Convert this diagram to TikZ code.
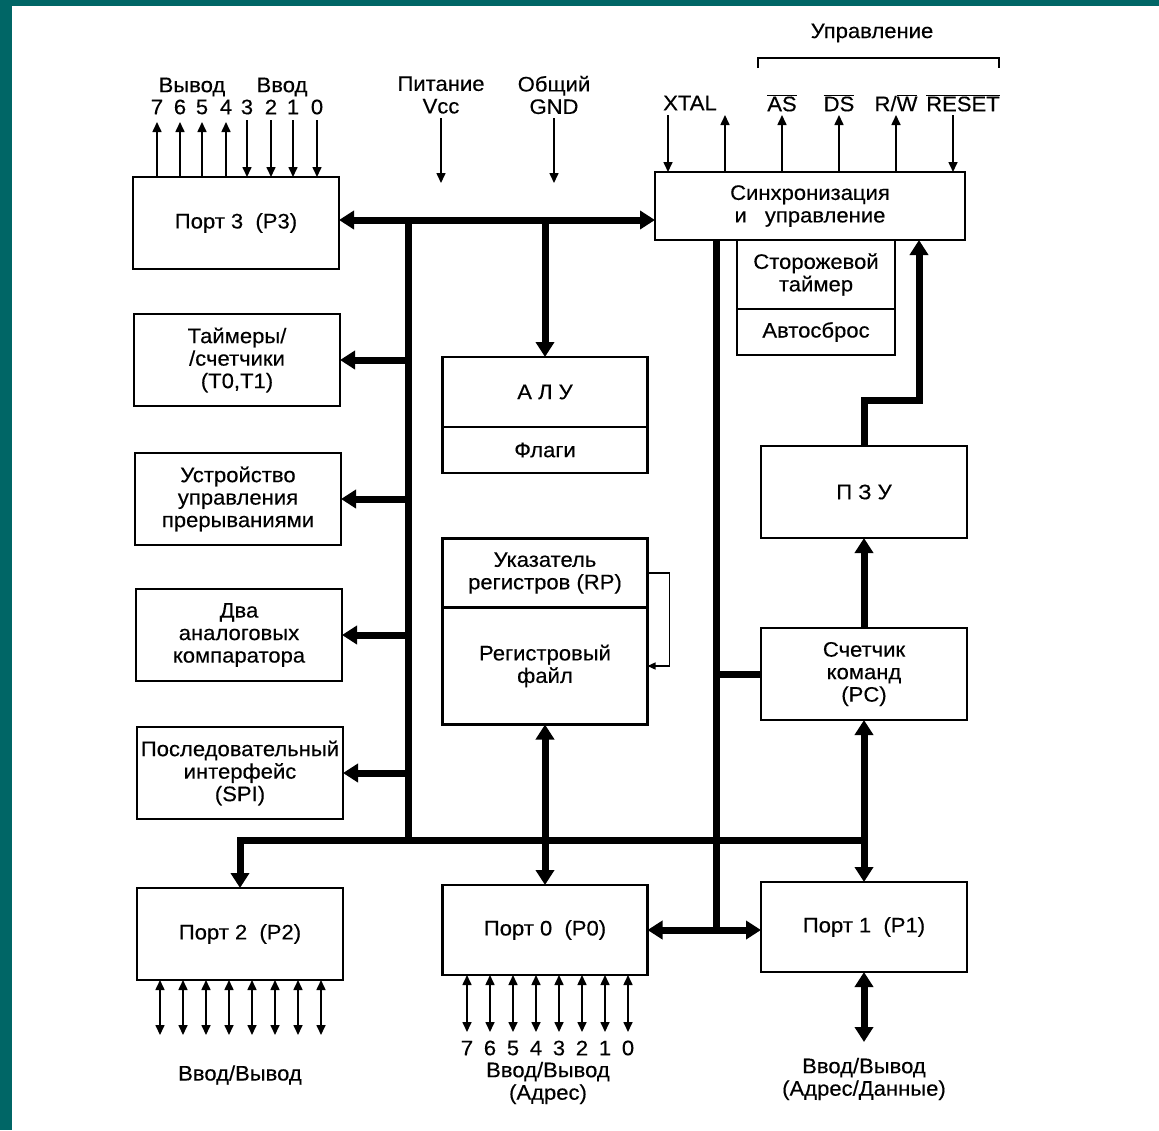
\documentclass[tikz,border=0pt]{standalone}
\usepackage{fontspec}
\setmainfont{Liberation Sans}[FakeStretch=1.05,FakeBold=0.3]
\usetikzlibrary{arrows.meta,positioning}
\definecolor{frame}{RGB}{0,102,102}
\tikzset{
  blk/.style={draw, line width=2.2pt, outer sep=0pt, inner sep=2pt, align=center, minimum width=206pt, minimum height=92pt},
  lbl/.style={inner sep=0pt, align=center},
  bus/.style={line width=7pt},
  busarr/.style={bus, -{Triangle[length=15pt,width=18pt]}},
  busboth/.style={bus, {Triangle[length=15pt,width=18pt]}-{Triangle[length=15pt,width=18pt]}},
  pin/.style={line width=1.6pt, -{Triangle[length=10pt,width=9pt]}},
  pinboth/.style={line width=1.6pt, {Triangle[length=10pt,width=9pt]}-{Triangle[length=10pt,width=9pt]}},
}
\begin{document}
\begin{tikzpicture}[x=1pt,y=-1pt, every node/.style={font=\fontsize{21}{22.5}\selectfont}]
\useasboundingbox (0,0) rectangle (1159,1130);
\fill[frame] (0,0) rectangle (1159,1130);
\fill[white] (12,6) rectangle (1159,1130);
% left column
\node[blk] (p3) at (236,223) {Порт 3\ \ (P3)};
\node[blk] (tmr) at (237,360) {Таймеры/\\/счетчики\\(T0,T1)};
\node[blk] (irq) at (238,499) {Устройство\\управления\\прерываниями};
\node[blk] (cmp) at (239,635) {Два\\аналоговых\\компаратора};
\node[blk] (spi) at (240,773) {Последовательный\\интерфейс\\(SPI)};
\node[blk] (p2) at (240,934) {Порт 2\ \ (P2)};
% middle column
\node[blk, minimum width=205pt, minimum height=70pt] (alu) at (545,392) {А\ Л\ У};
\node[blk, minimum width=205pt, minimum height=46pt, below=0pt of alu] (flg) {Флаги};
\node[blk, minimum width=205pt, minimum height=69pt] (rp) at (545,573) {Указатель\\регистров (RP)};
\node[blk, minimum width=205pt, minimum height=117pt, below=0pt of rp] (rf) {Регистровый\\файл};
\node[blk, minimum width=205pt, minimum height=90pt] (p0) at (545,930) {Порт 0\ \ (P0)};
% right column
\node[blk, minimum width=310pt, minimum height=68pt] (sync) at (810,206) {Синхронизация\\и\hspace{18pt}управление};
\node[blk, anchor=north, minimum width=158pt, minimum height=69pt] (wdt) at (816,240) {Сторожевой\\таймер};
\node[blk, minimum width=158pt, minimum height=46pt, below=0pt of wdt] (ars) {Автосброс};
\node[blk] (rom) at (864,492) {П\ З\ У};
\node[blk] (pc) at (864,674) {Счетчик\\команд\\(PC)};
\node[blk, minimum height=90pt] (p1) at (864,927) {Порт 1\ \ (P1)};
% buses
\coordinate (busT) at (408,220);
\coordinate (busB) at (408,840);
\coordinate (busR) at (716,930);
\coordinate (romJ) at (919,400);
\draw[busboth] (p3.east |- busT) -- (sync.west |- busT);
\draw[bus] (busT) -- (busB);
\draw[busarr] (busT -| alu.north) -- (alu.north);
\foreach \b in {tmr,irq,cmp,spi}
  \draw[busarr] (busT |- \b.east) -- (\b.east);
\draw[busarr] (busB -| p1.north) -- (busB -| p2.north) -- (p2.north);
\draw[busboth] (rf.south) -- (p0.north);
\draw[bus] (busR |- sync.south) -- (busR);
\draw[busboth] (p0.east |- busR) -- (p1.west |- busR);
\draw[bus] (busR |- pc.west) -- (pc.west);
\draw[busarr] (pc.north) -- (rom.south);
\draw[busarr] (rom.north) |- (romJ) -- (romJ |- sync.south);
\draw[busboth] (pc.south) -- (p1.north);
\coordinate (p1out) at (864,1042);
\draw[busboth] (p1.south) -- (p1out);
\draw[line width=1.3pt, -{Triangle[length=8pt,width=7pt]}] (rp.east) -- ++(22,0) |- (rf.east);
% port 3 pins
\node[lbl] (outl) at (192,87) {Вывод};
\node[lbl] (inl) at (282,87) {Ввод};
\foreach \x/\n in {157/7,180/6,202/5,226/4}{
  \node[lbl] (n\n) at (\x,107) {\n};
  \coordinate (t\n) at (\x,122);
  \draw[pin] (p3.north -| t\n) -- (t\n);
}
\foreach \x/\n in {247/3,271/2,293/1,317/0}{
  \node[lbl] (n\n) at (\x,107) {\n};
  \coordinate (t\n) at (\x,120);
  \draw[pin] (t\n) -- (p3.north -| t\n);
}
% supply
\node[lbl] (vcc) at (441,95) {Питание\\Vcc};
\node[lbl] (gnd) at (554,95) {Общий\\GND};
\coordinate (vccE) at (441,183);
\coordinate (gndE) at (554,183);
\draw[pin] (vccE |- 0,118) -- (vccE);
\draw[pin] (gndE |- 0,118) -- (gndE);
% control signals
\node[lbl] (ctl) at (872,33) {Управление};
\draw[line width=1.3pt] (758,68) |- (999,58) -- (999,68);
\node[lbl] (xtal) at (690,103) {XTAL};
\node[lbl] (as) at (782,103) {$\overline{\mbox{AS}}$};
\node[lbl] (ds) at (839,103) {$\overline{\mbox{DS}}$};
\node[lbl] (rw) at (896,103) {R/$\overline{\mbox{W}}$};
\node[lbl] (rst) at (963,103) {$\overline{\mbox{RESET}}$};
\coordinate (xi) at (668,115);
\coordinate (xo) at (725,115);
\coordinate (rsi) at (953,115);
\draw[pin] (xi) -- (xi |- sync.north);
\draw[pin] (xo |- sync.north) -- (xo);
\foreach \s in {as,ds,rw}
  \draw[pin] (\s |- sync.north) -- (\s |- xo);
\draw[pin] (rsi) -- (rsi |- sync.north);
% port 2 and port 0 pins
\foreach \x in {160,183,...,321}{
  \coordinate (q\x) at (\x,1035);
  \draw[pinboth] (p2.south -| q\x) -- (q\x);
}
\foreach \n [count=\i from 0] in {7,6,5,4,3,2,1,0}{
  \coordinate (r\n) at ({467+23*\i},1032);
  \draw[pinboth] (p0.south -| r\n) -- (r\n);
  \node[lbl] (m\n) at ({467+23*\i},1048) {\n};
}
\node[lbl] (io2) at (240,1075) {Ввод/Вывод};
\node[lbl] (io0) at (548,1083) {Ввод/Вывод\\(Адрес)};
\node[lbl] (io1) at (864,1079) {Ввод/Вывод\\(Адрес/Данные)};
\end{tikzpicture}
\end{document}
